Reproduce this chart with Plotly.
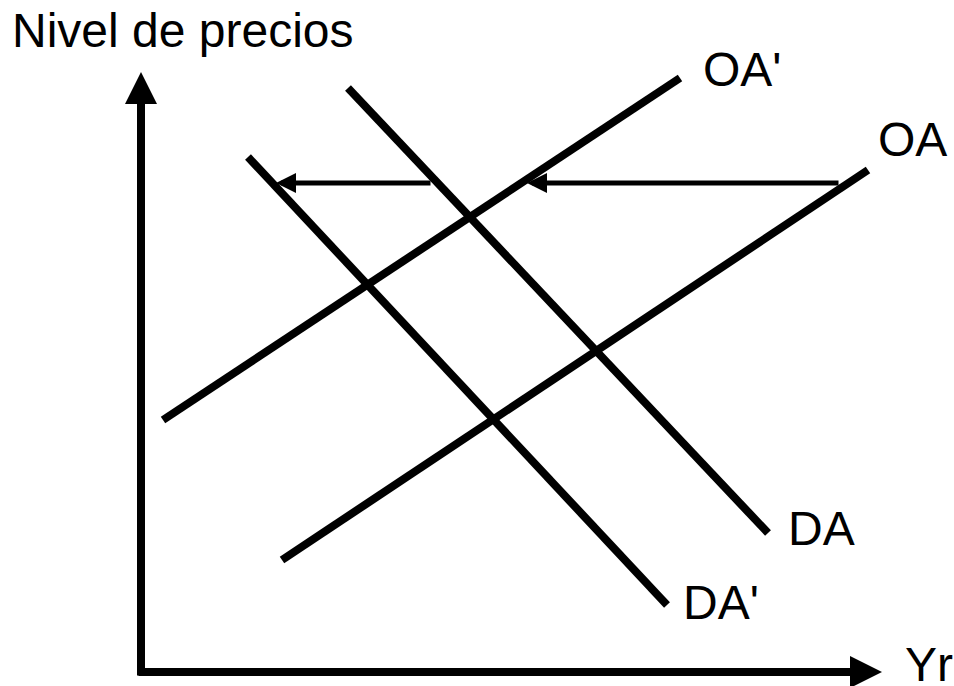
import plotly.graph_objects as go

# Conceptual diagram units (Yr on x, price level on y)
curve_names = ["OA", "OA'", "DA", "DA'"]
curve_x = [[14.1, 72.7], [2.2, 53.9], [20.7, 62.7], [10.7, 52.6]]
curve_y = [[11.2, 50.2], [25.2, 59.4], [58.4, 13.9], [51.5, 6.7]]

# Shift arrows (start -> tip) at a given price level
shift_start_x = [69.9, 29.1]
shift_tip_x = [38.6, 13.5]
shift_y = 48.9

# Axes (start -> tip)
yaxis_start = (0.0, -0.5)
yaxis_tip = (0.0, 60.0)
xaxis_start = (-0.4, 0.0)
xaxis_tip = (74.1, 0.0)

# Labels
label_text = ["Nivel de precios", "OA'", "OA", "DA", "DA'", "Yr"]
label_x = [-13.1, 55.97, 73.47, 64.5, 54.0, 76.2]
label_y = [64.15, 60.25, 53.3, 14.35, 7.0, 0.75]

FONT = "Liberation Sans, Arial, sans-serif"

fig = go.Figure()
for nx, ny, nm in zip(curve_x, curve_y, curve_names):
    fig.add_trace(go.Scatter(x=nx, y=ny, mode="lines", name=nm,
                             line=dict(color="black", width=8),
                             hoverinfo="skip", showlegend=False))

annotations = []
# axes arrows
for (sx, sy), (tx, ty) in [(yaxis_start, yaxis_tip), (xaxis_start, xaxis_tip)]:
    annotations.append(dict(x=tx, y=ty, ax=sx, ay=sy, xref="x", yref="y",
                            axref="x", ayref="y", text="", showarrow=True,
                            arrowhead=2, arrowwidth=8, arrowsize=0.8,
                            arrowcolor="black", standoff=0, startstandoff=0))
# shift arrows
for sx, tx in zip(shift_start_x, shift_tip_x):
    annotations.append(dict(x=tx, y=shift_y, ax=sx, ay=shift_y, xref="x", yref="y",
                            axref="x", ayref="y", text="", showarrow=True,
                            arrowhead=2, arrowwidth=5, arrowsize=0.8,
                            arrowcolor="black", standoff=0, startstandoff=0))
# labels
for t, lx, ly in zip(label_text, label_x, label_y):
    annotations.append(dict(x=lx, y=ly, xref="x", yref="y", text=t,
                            showarrow=False, xanchor="left", yanchor="middle",
                            font=dict(family=FONT, size=48, color="black")))

fig.update_layout(
    width=954, height=686, autosize=False,
    margin=dict(l=0, r=0, t=0, b=0, pad=0),
    paper_bgcolor="white", plot_bgcolor="white",
    xaxis=dict(range=[-14.1, 81.3], visible=False, fixedrange=True),
    yaxis=dict(range=[-1.4, 67.2], visible=False, fixedrange=True),
    annotations=annotations,
    showlegend=False,
)

fig.write_html(
    "out.html",
    config={"displayModeBar": False},
    post_script="document.body.style.margin='0';document.body.style.overflow='hidden';",
)
